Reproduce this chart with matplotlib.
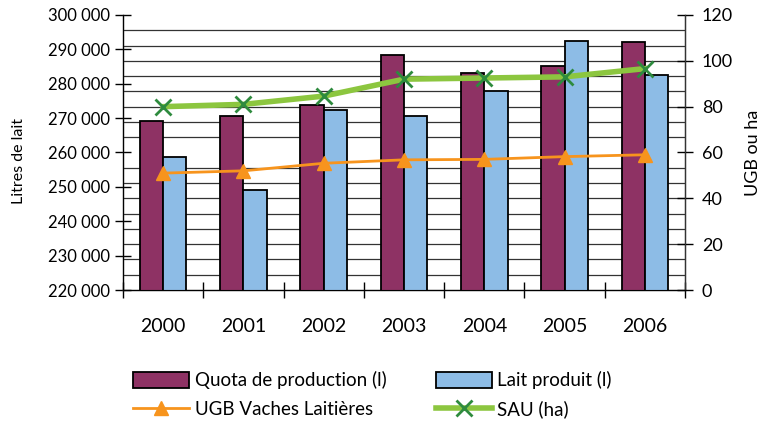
import numpy as np
import matplotlib
matplotlib.use("Agg")
import matplotlib.pyplot as plt
from matplotlib.ticker import FixedLocator, FuncFormatter, MultipleLocator

plt.rcParams['font.family'] = ['Lato', 'DejaVu Sans']

# données de l'exploitation
annees = ["2000", "2001", "2002", "2003", "2004", "2005", "2006"]
quota = [269200, 270700, 273700, 288300, 283000, 285300, 292000]
lait = [258800, 249000, 272400, 270600, 278000, 292300, 282600]
ugb = [51, 52, 55.3, 56.8, 57, 58.2, 59]
sau = [80, 81, 84.6, 92, 92.5, 93, 96.6]

fig = plt.figure(figsize=(7.62, 4.28), dpi=100)
ax = fig.add_axes([0.1614, 0.3224, 0.7376, 0.6426])
ax2 = ax.twinx()

x = np.arange(len(annees))
w = 0.29
ax.bar(x - w / 2, quota, w, color="#8E3264", edgecolor="black", linewidth=1.3,
       label="Quota de production (l)", zorder=3)
ax.bar(x + w / 2, lait, w, color="#8DBCE6", edgecolor="black", linewidth=1.3,
       label="Lait produit (l)", zorder=3)

ax.set_ylim(220000, 300000)
ax.set_xlim(-0.5, len(annees) - 0.5)
ax.yaxis.set_major_locator(MultipleLocator(10000))
ax.yaxis.set_minor_locator(FixedLocator(np.linspace(220000, 300000, 19)))
ax.yaxis.set_major_formatter(FuncFormatter(lambda v, p: f"{int(v):,}".replace(",", " ")))
ax.grid(axis="y", which="minor", color="#333333", linewidth=0.9, zorder=0)
ax.tick_params(axis="y", which="minor", length=0)
ax.tick_params(axis="y", which="major", direction="inout", length=12, width=1, labelsize=12)
ax.set_axisbelow(True)

ax.set_xticks(x)
ax.set_xticklabels(annees)
ax.xaxis.set_minor_locator(FixedLocator(np.arange(-0.5, len(annees), 1)))
ax.tick_params(axis="x", which="major", length=0, labelsize=14, pad=20)
ax.tick_params(axis="x", which="minor", direction="inout", length=12, width=1)
ax.set_ylabel("Litres de lait", fontsize=11.5)
ax.yaxis.set_label_coords(-0.172, 0.47)

for s in ["left", "bottom", "right"]:
    ax.spines[s].set_linewidth(1)
    ax.spines[s].set_color("#333333")
ax.spines["top"].set_visible(False)
ax2.spines["top"].set_visible(False)
ax2.spines["right"].set_color("#333333")

ax2.plot(x, ugb, color="#F7941D", linewidth=2, marker="^", markersize=10,
         markeredgecolor="#F7941D", label="UGB Vaches Laitières", zorder=4)
ax2.plot(x, sau, color="#8CC63F", linewidth=4, marker="x", markersize=11,
         markeredgecolor="#2E8B3E", markeredgewidth=2, label="SAU (ha)", zorder=4)
ax2.set_ylim(0, 120)
ax2.yaxis.set_major_locator(MultipleLocator(20))
ax2.tick_params(axis="y", direction="inout", length=12, width=1, labelsize=13, pad=6)
ax2.set_ylabel("UGB ou ha", fontsize=13)
ax2.yaxis.set_label_coords(1.106, 0.5)

h1, l1 = ax.get_legend_handles_labels()
h2, l2 = ax2.get_legend_handles_labels()
handles = [h1[0], h2[0], h1[1], h2[1]]
labels = [l1[0], l2[0], l1[1], l2[1]]
fig.legend(handles, labels, ncol=2, loc="upper left", bbox_to_anchor=(0.165, 0.15),
           frameon=False, fontsize=13.5, columnspacing=2.6, handlelength=3.0,
           handleheight=0.9, handletextpad=0.3, labelspacing=0.6, borderaxespad=0)

fig.savefig("out.png", dpi=100)
